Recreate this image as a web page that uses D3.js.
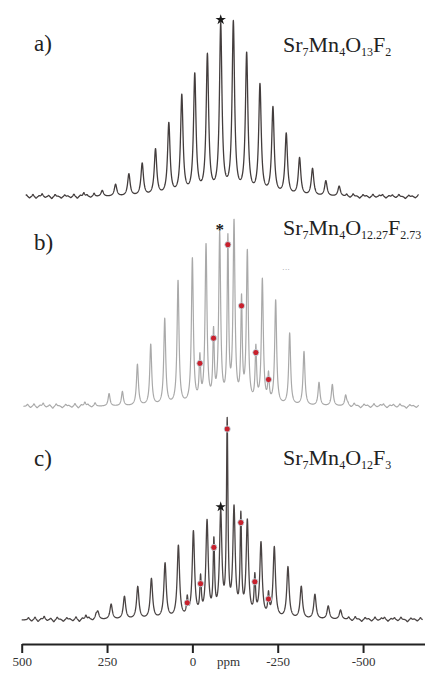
<!DOCTYPE html>
<html><head><meta charset="utf-8">
<script src="https://cdn.jsdelivr.net/npm/d3@7/dist/d3.min.js"></script>
<style>html,body{margin:0;padding:0;background:#fff;}svg{display:block;}
svg text{font-family:"Liberation Serif","Times New Roman","DejaVu Serif",serif !important;}</style>
</head><body>
<script>
// ---- data ----
const tickValues = [500, 250, 0, -250, -500];
const tickLabels = ["500", "250", "0", "-250", "-500"];
const axisTitle = "ppm";

const panelLabels = ["a)", "b)", "c)"];
const formulas = [
  [["Sr",""],["7","sub"],["Mn",""],["4","sub"],["O",""],["13","sub"],["F",""],["2","sub"]],
  [["Sr",""],["7","sub"],["Mn",""],["4","sub"],["O",""],["12.27","sub"],["F",""],["2.73","sub"]],
  [["Sr",""],["7","sub"],["Mn",""],["4","sub"],["O",""],["12","sub"],["F",""],["3","sub"]]
];

// panel a) : one set of spinning sidebands (ppm, relative intensity)
const aMainPpm    = [264, 225, 186, 147, 108, 69, 31, -7, -44, -83, -120, -159, -198, -236, -275, -314, -352, -391, -430];
const aMainHeight = [3.5, 7, 13, 19, 27, 42, 58, 70, 81, 99, 100, 82, 64, 51, 36, 22, 16, 9, 6];

// panel b)
const bMainPpm    = [244, 205, 161, 122, 81, 42, 0, -40, -80, -122, -161, -205, -244, -285, -327, -371, -410, -449];
const bMainHeight = [7, 8, 23, 34, 48, 69, 81, 88, 94, 100, 84, 69, 58, 40, 30, 13, 12, 6];
const bSecPpm     = [-22, -62, -104, -144, -186, -223];
const bSecHeight  = [24, 38, 90, 56, 30, 15];

// panel c)
const cMainPpm    = [277, 238, 199, 160, 120, 80, 41, -3, -43, -83, -122, -161, -201, -240, -280, -319, -359, -398, -434];
const cMainHeight = [4, 8, 12, 17, 21, 29, 38, 45, 50, 54, 56, 50, 39, 37, 27, 17, 13, 7, 5];
const cSecPpm     = [15, -24, -63, -102, -142, -183, -223];
const cSecHeight  = [9, 19, 38, 100, 51, 20, 11];

// reference sideband marked with a star (ppm), per panel
const starPpm = [-83, -80, -83];

const ripplePpm    = [486, 477, 467, 458, 449, 440, 431, 421, 412, 402, 393, 384, 374, 365, 356, 347, 337, 328, 318, 309, 298, 288,
                      -452, -462, -471, -481, -490, -500, -510, -519, -529, -538, -548, -557, -567, -576, -586, -596, -605, -615, -624, -634, -644, -653, -662];
const rippleHeight = [1.2, -0.8, 1.5, -1.0, 0.6, 1.8, -0.5, 0.9, -1.2, 1.4, 0.3, -0.9, 1.1, 0.5, -0.7, 1.6, -1.1, 0.8, 2.2, 1.0, -0.6, 1.9,
                      1.3, -0.7, 1.6, 0.4, -1.0, 1.2, 0.6, -0.8, 1.5, -0.4, 0.9, 1.3, -0.9, 0.7, 1.1, -0.6, 1.4, 0.2, -1.1, 1.0, 0.5, -0.7, 1.2];

// ---- layout ----
const W = 425, H = 673;
const svg = d3.select("body").append("svg").attr("width", W).attr("height", H)
  .style("background", "#fff");

const x = d3.scaleLinear().domain([500, -680]).range([21.7, 424.5]);

const panels = [
  {main: {ppm: aMainPpm, h: aMainHeight}, sec: null, base: 197, top: 26, g: 4.4,
   color: "#433d3d", width: 1.3, extent: [488, -663], star: "sym", starOff: 8, label: [34, 51], formulaY: 52},
  {main: {ppm: bMainPpm, h: bMainHeight}, sec: {ppm: bSecPpm, h: bSecHeight}, base: 406.5, top: 226.7, g: 3.4,
   color: "#a9a9a9", width: 1.2, extent: [495, -663], star: "txt", starOff: 9, label: [34, 250], formulaY: 235},
  {main: {ppm: cMainPpm, h: cMainHeight}, sec: {ppm: cSecPpm, h: cSecHeight}, base: 620, top: 429, g: 4.2,
   color: "#4a4444", width: 1.3, extent: [500, -675], star: "sym", starOff: 10, label: [34, 466], formulaY: 465}
];

function lor(d, g) { return g * g / (d * d + g * g); }

panels.forEach((p, pi) => {
  const y = d3.scaleLinear().domain([0, 100]).range([p.base, p.top]);
  const pts = [];
  for (let v = p.extent[0]; v >= p.extent[1]; v -= 0.4) {
    let s = 0;
    p.main.ppm.forEach((c, i) => { s += p.main.h[i] * lor(v - c, p.g); });
    if (p.sec) p.sec.ppm.forEach((c, i) => { s += p.sec.h[i] * lor(v - c, 2.6); });
    ripplePpm.forEach((c, i) => { s += rippleHeight[i] * lor(v - c + pi * 3, 3); });
    pts.push([v, s]);
  }
  const line = d3.line().x(d => x(d[0])).y(d => y(d[1]));
  svg.append("path").datum(pts).attr("d", line)
    .attr("fill", "none").attr("stroke", p.color).attr("stroke-width", p.width)
    .attr("stroke-linejoin", "round");

  // red markers on the second site
  if (p.sec) {
    svg.append("g").selectAll("circle").data(p.sec.ppm.map((c, i) => [c, p.sec.h[i]]))
      .join("circle")
      .attr("cx", d => x(d[0])).attr("cy", d => y(d[1]))
      .attr("r", 3.1).attr("fill", "#c8202c")
      .attr("stroke", "#bfe6ee").attr("stroke-width", 0.8);
  }

  // star over the reference sideband
  const ci = p.main.ppm.indexOf(starPpm[pi]);
  const sx = x(p.main.ppm[ci]), sy = y(p.main.h[ci]) - p.starOff;
  if (p.star === "sym") {
    svg.append("path").attr("d", d3.symbol(d3.symbolStar, 34)())
      .attr("transform", `translate(${sx},${sy})`).attr("fill", "#1a1a1a");
  } else {
    svg.append("text").attr("x", sx).attr("y", sy + 7).attr("text-anchor", "middle")
      .attr("font-size", 17).attr("font-weight", "bold")
      .attr("fill", "#1a1a1a").text("*");
  }

  // panel label
  svg.append("text").attr("x", p.label[0]).attr("y", p.label[1])
    .attr("font-size", 23).attr("fill", "#222").text(panelLabels[pi]);

  // formula
  const t = svg.append("text").attr("x", 283).attr("y", p.formulaY)
    .attr("font-size", 22).attr("fill", "#222");
  let cur = 0;
  formulas[pi].forEach(([s, kind]) => {
    const sub = kind === "sub";
    const target = sub ? 4 : 0;
    const ts = t.append("tspan").text(s).attr("dy", target - cur);
    if (sub) ts.attr("font-size", 12);
    cur = target;
  });
});

// faint dots in panel b
svg.append("text").attr("x", 286).attr("y", 272).attr("font-size", 8)
  .attr("fill", "#999").attr("text-anchor", "middle").text("···");

// ---- axis ----
const axis = d3.axisBottom(x).tickValues(tickValues)
  .tickFormat((d, i) => tickLabels[i]).tickSizeInner(9).tickSizeOuter(0).tickPadding(4);
const gx = svg.append("g").attr("transform", "translate(0,644)").call(axis);
gx.attr("font-family", null);
gx.select(".domain").attr("stroke", "#222").attr("stroke-width", 2);
gx.selectAll(".tick line").attr("stroke", "#222").attr("stroke-width", 2);
gx.selectAll(".tick text").attr("font-size", 13).attr("fill", "#333");
svg.append("text").attr("x", 228.5).attr("y", 666).attr("text-anchor", "middle")
  .attr("font-size", 13).attr("fill", "#333")
  .text(axisTitle);
</script>
</body></html>
